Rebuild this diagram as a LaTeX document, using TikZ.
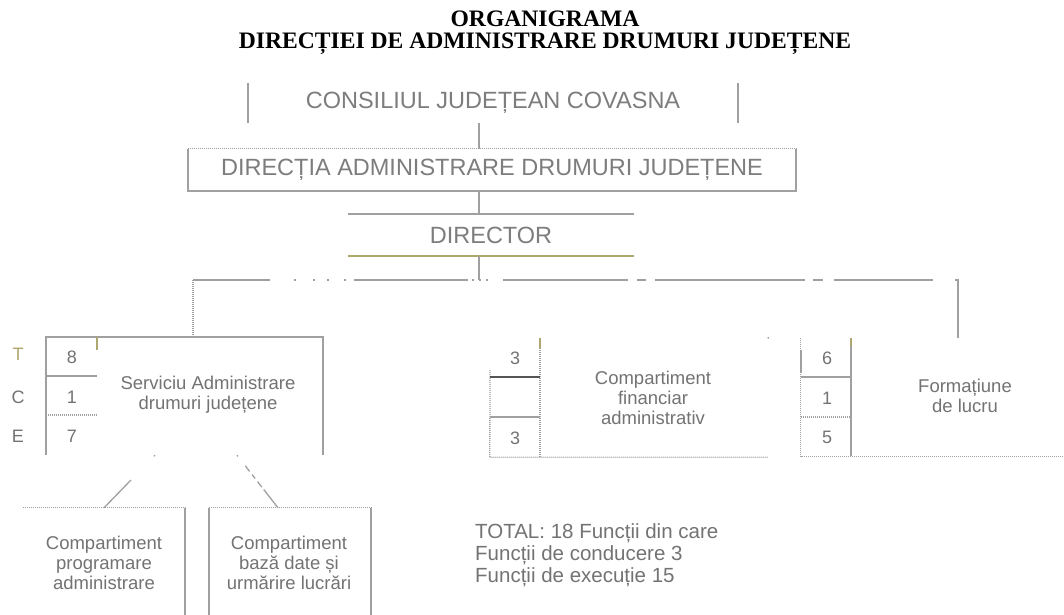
\documentclass[tikz,border=0pt]{standalone}
\usepackage{fontspec}
\setmainfont{Liberation Serif}
\newfontfamily\arialf{Liberation Sans}
\usetikzlibrary{calc}
\definecolor{linegray}{RGB}{160,160,160}
\definecolor{darkline}{RGB}{85,85,85}
\definecolor{olivec}{RGB}{175,168,110}
\definecolor{txtgray}{RGB}{115,115,115}
\definecolor{bigtxt}{RGB}{125,125,125}
\begin{document}
\begin{tikzpicture}[x=1pt,y=-1pt,
  frame/.style={rectangle, inner sep=0pt, draw=none},
  titlef/.style={font=\bfseries\fontsize{23.6}{26}\selectfont, text=black, inner sep=0pt},
  big/.style={font=\arialf\fontsize{23.5}{26}\selectfont, text=bigtxt, inner sep=0pt},
  boxtxt/.style={font=\arialf\fontsize{18.5}{20}\selectfont, text=txtgray, align=center, inner sep=0pt},
  num/.style={font=\arialf\fontsize{18}{20}\selectfont, text=txtgray, inner sep=0pt},
  solidln/.style={draw=linegray, line width=1.5pt},
  darkln/.style={draw=darkline, line width=1.5pt},
  oliveln/.style={draw=olivec, line width=1.5pt},
  dotln/.style={draw=linegray, line width=1.3pt, dash pattern=on 1pt off 1pt},
  busln/.style={solidln, dash pattern=on 77pt off 24pt on 1.5pt off 17pt on 2pt off 12.5pt on 2pt off 15pt on 2pt off 8pt on 114pt off 4pt on 1.5pt off 5.5pt on 1.5pt off 5.5pt on 1.5pt off 15.5pt on 125pt off 9pt on 9pt off 9pt on 150pt off 8pt on 10pt off 11pt on 99pt off 22pt on 80pt}
]
\fill[white] (0,0) rectangle (1064,614);
\useasboundingbox (0,0) rectangle (1064,614);

% title
\node[titlef, anchor=base] (t1) at (545,26) {ORGANIGRAMA};
\node[titlef, anchor=base] (t2) at (545,48) {DIRECȚIEI DE ADMINISTRARE DRUMURI JUDEȚENE};

% top hierarchy
\node[frame, big, minimum width=490pt, minimum height=40pt] (cons) at (493,103) {CONSILIUL JUDEȚEAN COVASNA};
\node[frame, big, minimum width=608pt, minimum height=42pt] (dir) at (492,170) {DIRECȚIA ADMINISTRARE DRUMURI JUDEȚENE};
\node[frame, big, minimum width=286pt, minimum height=42pt] (director) at (491,235) {DIRECTOR};
\coordinate (spine) at (479,280);

% departments
\node[frame, minimum width=277pt, minimum height=118pt] (serv) at (184.5,396) {};
\node[frame, minimum width=278pt, minimum height=119pt] (fin) at (629,397.5) {};
\node[frame, minimum width=314pt, minimum height=118pt] (form) at (958,397) {};
\node[frame, minimum width=162pt, minimum height=132pt] (prog) at (104,574) {};
\node[frame, minimum width=162pt, minimum height=132pt] (baza) at (290,574) {};

% texts
\node[boxtxt] (servtxt) at (208,395) {Serviciu Administrare\\drumuri județene};
\node[boxtxt] (fintxt) at (653,398) {Compartiment\\financiar\\administrativ};
\node[boxtxt] (formtxt) at (965,396) {Formațiune\\de lucru};
\node[boxtxt] (progtxt) at (104,563) {Compartiment\\programare\\administrare};
\node[boxtxt] (bazatxt) at (289,563) {Compartiment\\bază date și\\urmărire lucrări};

% T C E labels
\node[num, text=olivec] (lT) at (18,354) {T};
\node[num] (lC) at (18,397) {C};
\node[num] (lE) at (18,436) {E};

% numbers
\node[num] (s1) at (72,357) {8};
\node[num] (s2) at (72,397) {1};
\node[num] (s3) at (72,436) {7};
\node[num] (f1) at (515,358) {3};
\node[num] (f3) at (515,438) {3};
\node[num] (m1) at (827,358) {6};
\node[num] (m2) at (827,398) {1};
\node[num] (m3) at (827,437) {5};

% totals
\node[anchor=west, font=\arialf\fontsize{20.5}{22}\selectfont, text=txtgray, align=left, inner sep=0pt] (total) at (475,555) {TOTAL: 18 Funcții din care\\Funcții de conducere 3\\Funcții de execuție 15};

% box outlines
\draw[solidln] (cons.north west) -- (cons.south west);
\draw[solidln] (cons.north east) -- (cons.south east);
\draw[dotln] (dir.north west) -- (dir.north east);
\draw[solidln] (dir.north east) -- (dir.south east) -- (dir.south west) -- (dir.north west);
\draw[solidln] (director.north west) -- (director.north east);
\draw[oliveln] (director.south west) -- (director.south east);

\draw[solidln] (serv.south west) -- (serv.north west) -- (serv.north east) -- (serv.south east);
\draw[oliveln] (97,337) -- (97,350);
\draw[solidln] (46,376) -- (97,376);
\draw[dotln] (46,415) -- (97,415);

\draw[dotln] (490,370) -- (fin.south west) -- (fin.south east);
\draw[dotln] (540,338) -- (540,457);
\draw[oliveln] (540,338) -- (540,348);
\draw[darkln] (490,377) -- (540,377);
\draw[solidln] (490,417) -- (540,417);
\fill[linegray] (fin.north east) circle (1pt);

\draw[dotln] (form.north west) -- (form.south west) -- (form.south east);
\draw[solidln] (801,350) -- (801,373);
\draw[solidln] (851,338) -- (851,456);
\draw[oliveln] (851,338) -- (851,346);
\draw[solidln] (801,377) -- (851,377);
\draw[dotln] (801,417) -- (851,417);

\draw[dotln] (prog.north west) -- (prog.north east);
\draw[solidln] (prog.north east) -- (prog.south east);
\draw[dotln] (baza.north west) -- (baza.north east);
\draw[solidln] (baza.north west) -- (baza.south west);
\draw[solidln] (baza.north east) -- (baza.south east);

% connectors
\draw[solidln] (cons.south -| spine) -- (dir.north -| spine);
\draw[solidln] (dir.south -| spine) -- (director.north -| spine);
\draw[solidln] (director.south -| spine) -- (spine);
\draw[dotln] ([xshift=8.5pt]serv.north) -- ([xshift=8.5pt]serv.north |- spine);
\draw[busln] ([xshift=8.5pt]serv.north |- spine) -- (form.north |- spine) -- (form.north);
\draw[solidln, line width=1.3pt, dash pattern=on 1.5pt off 33pt on 60pt] ([xshift=-29.5pt]serv.south) -- (prog.north);
\draw[solidln, line width=1.3pt, dash pattern=on 1.5pt off 12pt on 7pt off 4pt on 5pt off 4pt on 7pt off 3pt on 40pt] ([xshift=52.5pt]serv.south) -- ([xshift=-12pt]baza.north);
\end{tikzpicture}
\end{document}
